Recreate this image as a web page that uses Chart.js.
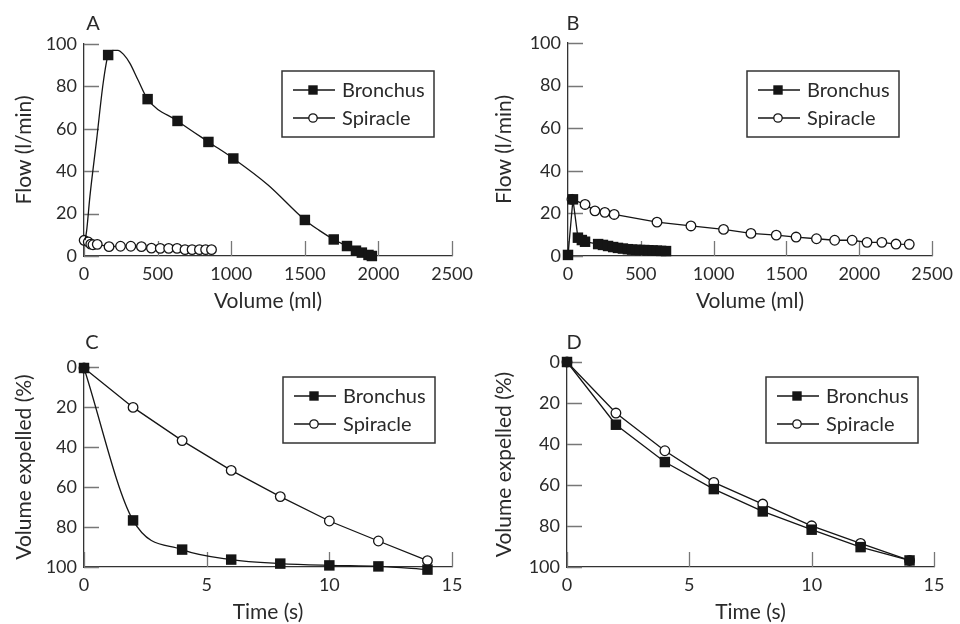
<!DOCTYPE html>
<html>
<head>
<meta charset="utf-8">
<title>Bronchus vs spiracle</title>
<script src="https://cdn.jsdelivr.net/npm/chart.js@4.4.1/dist/chart.umd.min.js"></script>
<style>
  html, body { margin: 0; padding: 0; background: #fff; }
  #wrap { position: relative; width: 960px; height: 624px; overflow: hidden; }
  .panel { position: absolute; width: 480px; height: 312px; }
</style>
</head>
<body>
<div id="wrap">
  <div class="panel" style="left:0;top:0"><canvas id="chartA" width="480" height="312"></canvas></div>
  <div class="panel" style="left:480px;top:0"><canvas id="chartB" width="480" height="312"></canvas></div>
  <div class="panel" style="left:0;top:312px"><canvas id="chartC" width="480" height="312"></canvas></div>
  <div class="panel" style="left:480px;top:312px"><canvas id="chartD" width="480" height="312"></canvas></div>
</div>
<script>
// ── Data ─────────────────────────────────────────────────────────
const seriesNames = ["Bronchus", "Spiracle"];

// A: flow-volume, bronchus (curve points, only some carry a marker)
const bronchusA_vol  = [7, 18, 40, 86, 130, 164, 200, 230, 270, 311, 367, 432, 635, 845, 1014, 1250, 1500, 1595, 1696, 1786, 1847, 1887, 1932, 1955];
const bronchusA_flow = [7.5, 12, 28, 55, 81.5, 94.8, 97, 97, 95, 91, 83, 74, 63.7, 53.8, 46, 33.5, 17, 12.2, 7.8, 4.7, 2.5, 1.6, 0.5, 0];
const bronchusA_mark = [0, 0, 0, 0, 0, 1, 0, 0, 0, 0, 0, 1, 1, 1, 1, 0, 1, 0, 1, 1, 1, 1, 1, 1];
const spiracleA_vol  = [1, 29, 46, 61, 90, 170, 248, 318, 390, 458, 518, 575, 632, 686, 734, 784, 826, 866];
const spiracleA_flow = [7.4, 6.6, 5.6, 5.3, 5.5, 4.4, 4.6, 4.6, 4.4, 3.7, 3.6, 3.6, 3.6, 3, 3, 3, 3, 3];

// B: flow-volume
const bronchusB_vol  = [0, 34, 68, 95, 117, 207, 240, 275, 310, 343, 377, 411, 440, 467, 495, 524, 552, 581, 610, 639, 673];
const bronchusB_flow = [0.5, 26.6, 8.6, 7.5, 6.7, 5.6, 5.2, 4.7, 4.2, 3.8, 3.5, 3.2, 3, 2.9, 2.8, 2.8, 2.7, 2.6, 2.5, 2.4, 2.3];
const spiracleB_vol  = [27, 117, 185, 253, 317, 611, 844, 1068, 1256, 1430, 1566, 1706, 1831, 1951, 2053, 2155, 2252, 2343];
const spiracleB_flow = [26.6, 24.2, 21.2, 20.5, 19.5, 15.9, 14.1, 12.5, 10.6, 9.8, 8.9, 8.1, 7.4, 7.4, 6.4, 6.4, 5.6, 5.5];

// C, D: volume expelled over time
const timeSec   = [0, 2, 4, 6, 8, 10, 12, 14];
const bronchusC = [0.5, 76.7, 91.3, 96.3, 98.3, 99.2, 99.7, 101.3];
const spiracleC = [0.5, 20.2, 36.8, 51.7, 64.8, 77, 87, 96.8];
const bronchusD = [0, 30.6, 48.8, 62, 72.9, 81.8, 90.3, 96.8];
const spiracleD = [0, 24.9, 43.3, 58.7, 69.3, 79.9, 88.5, 96.8];

// Axis ticks
const volumeTicks = [0, 500, 1000, 1500, 2000, 2500];
const flowTicks   = [0, 20, 40, 60, 80, 100];
const timeTicks   = [0, 5, 10, 15];
const pctTicks    = [0, 20, 40, 60, 80, 100];

// ── Style ────────────────────────────────────────────────────────
const FONT = "Lato, 'Open Sans', sans-serif";
const TEXT = "#2a2a2a";
const INK = "#151515";
const SQ_R = 7.4;   // rect marker "radius"
const CI_R = 4.8;
const TICK_IN = 15; // tick marks point into the plot

const toPoints = (xs, ys) => xs.map((x, i) => ({ x, y: ys[i] }));

function bronchusSet(data, radius, smooth) {
  return {
    label: seriesNames[0], data,
    borderColor: INK, borderWidth: 1.3, backgroundColor: INK,
    pointStyle: "rect", pointRadius: radius, pointBorderWidth: 0,
    pointBackgroundColor: INK, clip: false,
    cubicInterpolationMode: smooth ? "monotone" : "default", tension: 0
  };
}
function spiracleSet(data) {
  return {
    label: seriesNames[1], data,
    borderColor: INK, borderWidth: 1.3, backgroundColor: "#fff",
    pointStyle: "circle", pointRadius: CI_R, pointBorderWidth: 1.3,
    pointBackgroundColor: "#fff", pointBorderColor: INK, clip: false, tension: 0
  };
}

// ── Inward tick marks ────────────────────────────────────────────
const innerTicks = {
  id: "innerTicks",
  beforeDatasetsDraw(chart) {
    const { ctx, scales: { x, y } } = chart;
    ctx.save();
    ctx.strokeStyle = "#777";
    ctx.lineWidth = 1.3;
    ctx.beginPath();
    x.ticks.forEach(t => {
      const px = Math.round(x.getPixelForValue(t.value)) + 0.5;
      ctx.moveTo(px, x.top);
      ctx.lineTo(px, x.top - TICK_IN);
    });
    y.ticks.forEach(t => {
      const py = Math.round(y.getPixelForValue(t.value)) + 0.5;
      ctx.moveTo(y.right, py);
      ctx.lineTo(y.right + TICK_IN, py);
    });
    ctx.stroke();
    ctx.restore();
  }
};

// ── Panel letter + boxed legend ─────────────────────────────────
const panelDeco = {
  id: "panelDeco",
  afterDraw(chart, args, o) {
    const { ctx, chartArea: ca } = chart;
    ctx.save();
    ctx.fillStyle = TEXT;
    ctx.font = `20px ${FONT}`;
    ctx.textAlign = "center";
    ctx.textBaseline = "middle";
    ctx.fillText(o.letter, ca.left + o.letterDx, ca.top + o.letterDy);

    const bx = ca.left + o.boxX, by = ca.top + o.boxY;
    ctx.strokeStyle = "#333";
    ctx.lineWidth = 1.5;
    ctx.strokeRect(bx, by, 152, 66);

    ctx.font = `20px ${FONT}`;
    ctx.textAlign = "left";
    chart.data.datasets.forEach((ds, i) => {
      const y = by + 19 + i * 28;
      ctx.beginPath();
      ctx.moveTo(bx + 11, y);
      ctx.lineTo(bx + 53, y);
      ctx.strokeStyle = INK;
      ctx.lineWidth = 1.3;
      ctx.stroke();
      if (ds.pointStyle === "rect") {
        ctx.fillStyle = INK;
        ctx.fillRect(bx + 31 - 4.7, y - 4.7, 9.4, 9.4);
      } else {
        ctx.beginPath();
        ctx.arc(bx + 31, y, 4.2, 0, Math.PI * 2);
        ctx.fillStyle = "#fff";
        ctx.fill();
        ctx.stroke();
      }
      ctx.fillStyle = TEXT;
      ctx.fillText(ds.label, bx + 60, y + 1);
    });
    ctx.restore();
  }
};

function axis(pos, ticks, title, titlePad, extra) {
  return Object.assign({
    type: "linear", position: pos,
    min: ticks[0], max: ticks[ticks.length - 1],
    ticks: {
      stepSize: ticks[1] - ticks[0], color: TEXT,
      font: { family: FONT, size: 18 },
      padding: pos === "left" ? 7 : 7, maxRotation: 0, autoSkip: false,
      callback: v => String(v)
    },
    grid: { display: false, drawTicks: false },
    border: { color: "#333", width: 1.3 },
    title: {
      display: true, text: title, color: TEXT,
      font: { family: FONT, size: 21, lineHeight: 1 },
      padding: titlePad
    }
  }, extra || {});
}

function makePanel(id, datasets, xTicks, xTitle, yTicks, yTitle, L) {
  new Chart(document.getElementById(id), {
    type: "line",
    data: { datasets },
    options: {
      responsive: false, animation: false, events: [],
      layout: { padding: { left: 0, top: L.top, right: L.right, bottom: 0 } },
      plugins: {
        legend: { display: false }, tooltip: { enabled: false },
        panelDeco: L.deco
      },
      scales: {
        x: axis("bottom", xTicks, xTitle, { top: 0, bottom: L.xtp }, { afterFit: s => { s.height = L.xh; } }),
        y: axis("left", yTicks, yTitle, { top: 13.5, bottom: 0 }, { reverse: !!L.reverse, afterFit: s => { s.width = L.yw; } })
      }
    },
    plugins: [innerTicks, panelDeco]
  });
}

// ── Panels ───────────────────────────────────────────────────────
makePanel("chartA", [
  bronchusSet(toPoints(bronchusA_vol, bronchusA_flow), bronchusA_mark.map(m => m ? SQ_R : 0), true),
  spiracleSet(toPoints(spiracleA_vol, spiracleA_flow))
], volumeTicks, "Volume (ml)", flowTicks, "Flow (l/min)",
  { top: 44, right: 26, xh: 56, yw: 84, xtp: 0, deco: { letter: "A", letterDx: 9, letterDy: -20, boxX: 198, boxY: 27 } });

makePanel("chartB", [
  bronchusSet(toPoints(bronchusB_vol, bronchusB_flow), SQ_R, false),
  spiracleSet(toPoints(spiracleB_vol, spiracleB_flow))
], volumeTicks, "Volume (ml)", flowTicks, "Flow (l/min)",
  { top: 43, right: 24, xh: 56, yw: 88, xtp: 0, deco: { letter: "B", letterDx: 5, letterDy: -19, boxX: 179, boxY: 28 } });

makePanel("chartC", [
  bronchusSet(toPoints(timeSec, bronchusC), SQ_R, true),
  spiracleSet(toPoints(timeSec, spiracleC))
], timeTicks, "Time (s)", pctTicks, "Volume expelled (%)",
  { top: 55, right: 28, xh: 57, yw: 84, xtp: 1.5, reverse: true, deco: { letter: "C", letterDx: 8, letterDy: -24, boxX: 199, boxY: 10 } });

makePanel("chartD", [
  bronchusSet(toPoints(timeSec, bronchusD), SQ_R, false),
  spiracleSet(toPoints(timeSec, spiracleD))
], timeTicks, "Time (s)", pctTicks, "Volume expelled (%)",
  { top: 50, right: 26, xh: 57, yw: 87, xtp: 1.5, reverse: true, deco: { letter: "D", letterDx: 7, letterDy: -19, boxX: 199, boxY: 15 } });
</script>
</body>
</html>
